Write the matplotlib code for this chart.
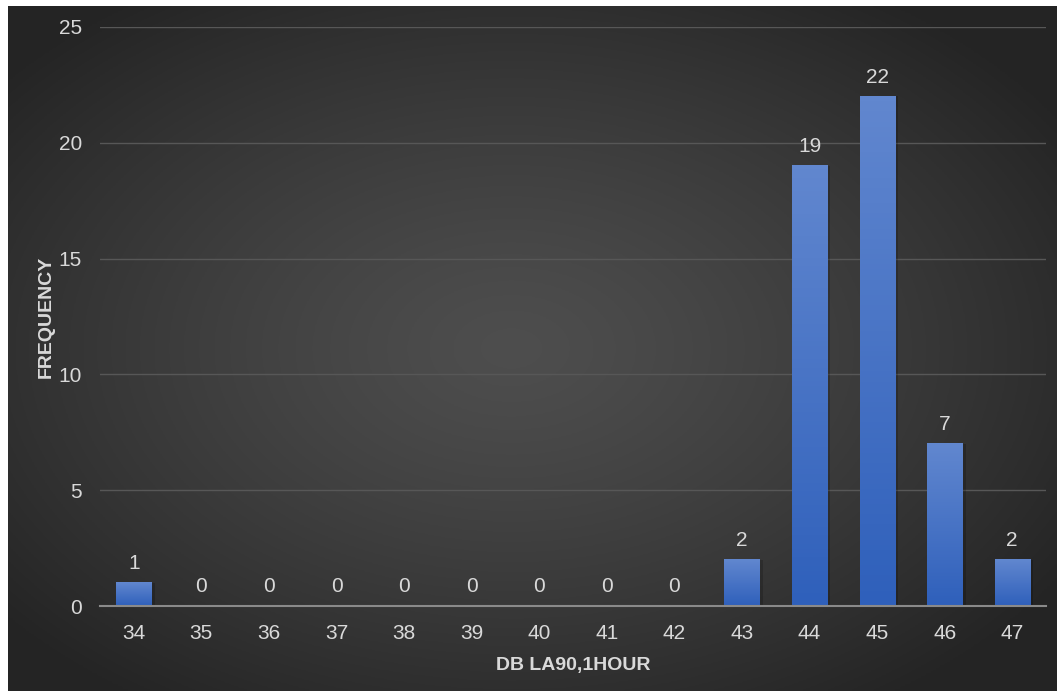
import numpy as np
import matplotlib
matplotlib.use("Agg")
import matplotlib.pyplot as plt
from matplotlib.colors import LinearSegmentedColormap

categories = ["34", "35", "36", "37", "38", "39", "40", "41", "42", "43", "44", "45", "46", "47"]
frequency = [1, 0, 0, 0, 0, 0, 0, 0, 0, 2, 19, 22, 7, 2]
y_ticks = [0, 5, 10, 15, 20, 25]

W, H = 1057, 691
plt.rcParams['font.family'] = ['Liberation Sans', 'DejaVu Sans']
fig = plt.figure(figsize=(W / 100, H / 100), dpi=100)
fig.patch.set_facecolor("white")

# background radial gradient
bg = fig.add_axes([8 / W, 0, 1 - 8 / W, 1 - 6 / H], zorder=-10)
nx, ny = 400, 260
xx, yy = np.meshgrid(np.linspace(0, 1, nx), np.linspace(0, 1, ny))
cx, cy = 0.48, 0.5
r = np.sqrt(((xx - cx) / 0.62) ** 2 + ((yy - cy) / 0.62) ** 2)
r = np.clip(r, 0, 1)
val = 0.305 - (0.305 - 0.145) * r ** 1.3
bg.imshow(np.dstack([val, val, val]), aspect="auto", extent=[0, 1, 0, 1], origin="lower")
bg.axis("off")

ax = fig.add_axes([100 / W, (H - 606) / H, (1046 - 100) / W, (606 - 27) / H])
ax.patch.set_alpha(0)
x = np.arange(len(categories))
bw = 0.52
bars = ax.bar(x, frequency, width=bw, color="none", zorder=3)
cmap = LinearSegmentedColormap.from_list("b", ["#2f60bb", "#6187cf"])
grad = np.linspace(0, 1, 100).reshape(-1, 1)
for b, v in zip(bars, frequency):
    if v <= 0:
        continue
    x0 = b.get_x()
    # shadow
    ax.bar(x0 + bw / 2 + 0.03, v, width=bw + 0.04, color="black", alpha=0.18, zorder=2, linewidth=0)
    ax.imshow(grad, cmap=cmap, origin="lower", aspect="auto",
              extent=[x0, x0 + bw, 0, v], zorder=3)

for xi, v in zip(x, frequency):
    ax.annotate(str(v), (xi, v), xytext=(0, 7), textcoords="offset points",
                ha="center", va="bottom", color="#d9d9d9", fontsize=15)

ax.set_xlim(-0.5, len(categories) - 0.5)
ax.set_ylim(0, 25)
ax.set_yticks(y_ticks)
ax.set_xticks(x)
ax.set_xticklabels(categories)
ax.tick_params(axis="both", length=0, colors="#d9d9d9", labelsize=15)
ax.tick_params(axis="x", pad=13)
ax.tick_params(axis="y", pad=13)
ax.grid(axis="y", color="#575757", linewidth=1, zorder=0)
ax.set_axisbelow(True)
for s in ["top", "right", "left"]:
    ax.spines[s].set_visible(False)
ax.spines["bottom"].set_color("#8a8a8a")
ax.spines["bottom"].set_linewidth(1.5)
ax.spines["bottom"].set_zorder(4)

ax.set_xlabel("DB LA90,1HOUR", color="#d9d9d9", fontsize=14, fontweight="bold", labelpad=10)
ax.set_ylabel("FREQUENCY", color="#d9d9d9", fontsize=14, fontweight="bold", labelpad=3)

fig.savefig("out.png", dpi=100, facecolor=fig.get_facecolor())
